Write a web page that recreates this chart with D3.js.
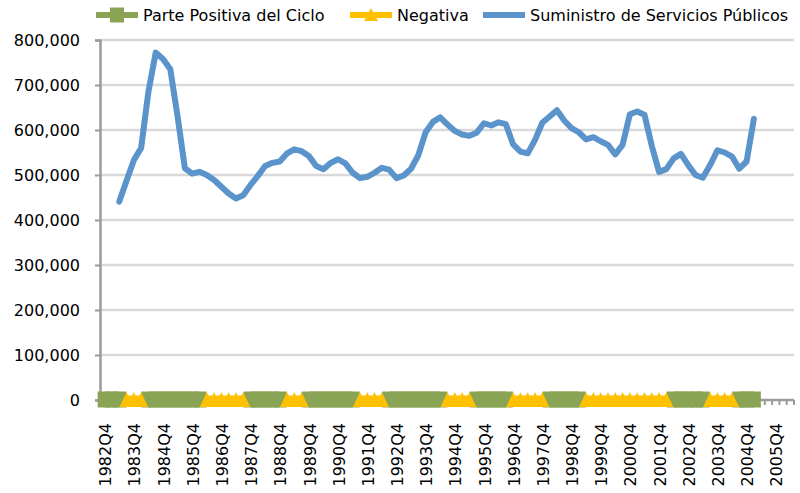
<!DOCTYPE html>
<html>
<head>
<meta charset="utf-8">
<script src="https://cdn.jsdelivr.net/npm/d3@7"></script>
<style>
  body { margin: 0; background: #fff; }
  text { font-family: "DejaVu Sans", sans-serif; fill: #000; }
</style>
</head>
<body>
<svg id="chart" width="800" height="493"></svg>
<script>
// quarters on the category axis: 1982Q4 .. 2006Q2
var quarters = [];
for (var y = 1982; y <= 2006; y++) {
  for (var q = 1; q <= 4; q++) {
    if ((y == 1982 && q < 4) || (y == 2006 && q > 2)) continue;
    quarters.push(y + "Q" + q);
  }
}
var tickLabels = ["1982Q4","1983Q4","1984Q4","1985Q4","1986Q4","1987Q4","1988Q4","1989Q4",
  "1990Q4","1991Q4","1992Q4","1993Q4","1994Q4","1995Q4","1996Q4","1997Q4","1998Q4",
  "1999Q4","2000Q4","2001Q4","2002Q4","2003Q4","2004Q4","2005Q4"];
var yTicks = [0, 100000, 200000, 300000, 400000, 500000, 600000, 700000, 800000];

// cycle phases (first and last quarter of each run)
var positiveRuns = [["1982Q4","1983Q2"],["1984Q2","1986Q1"],["1987Q4","1988Q4"],["1989Q4","1991Q2"],
  ["1992Q3","1994Q2"],["1995Q3","1996Q3"],["1998Q1","1999Q1"],["2002Q2","2003Q2"],["2004Q3","2005Q1"]];
var negativeRuns = [["1983Q3","1984Q1"],["1986Q2","1987Q3"],["1989Q1","1989Q3"],["1991Q3","1992Q2"],
  ["1994Q3","1995Q2"],["1996Q4","1997Q4"],["1999Q2","2002Q1"],["2003Q3","2004Q2"]];

// Suministro de Servicios Publicos, 1983Q2 .. 2005Q1
var supplyStart = "1983Q2";
var supply = [441000,487000,533000,560000,685000,772000,758000,735000,630000,515000,
  503000,507000,500000,489000,474000,459000,448000,455000,478000,498000,
  520000,527000,530000,548000,557000,553000,542000,520000,513000,527000,
  535000,526000,505000,493000,496000,505000,516000,512000,493000,499000,
  514000,544000,595000,618000,628000,612000,598000,590000,587000,594000,
  615000,610000,617000,613000,568000,552000,548000,578000,616000,630000,
  644000,621000,604000,595000,579000,584000,575000,567000,546000,567000,
  635000,641000,634000,565000,507000,513000,537000,547000,522000,500000,
  494000,522000,555000,550000,541000,514000,530000,625000];

var colPos = "#8aa455", colNeg = "#ffc000", colLine = "#5b93cb";

var svg = d3.select("#chart");
var x = d3.scaleBand().domain(quarters).range([101, 794]);
var y = d3.scaleLinear().domain([0, 800000]).range([400, 40]);
var cx = function(k) { return x(k) + x.bandwidth() / 2; };

// gridlines
svg.append("g").selectAll("line")
  .data(yTicks.filter(function(d) { return d > 0; }))
  .enter().append("line")
  .attr("x1", 101).attr("x2", 794)
  .attr("y1", function(d) { return y(d); }).attr("y2", function(d) { return y(d); })
  .attr("stroke", "#d9d9d9").attr("stroke-width", 2.5);

// y axis
var yAxis = svg.append("g").attr("transform", "translate(100,0)")
  .call(d3.axisLeft(y).tickValues(yTicks).tickSize(5).tickPadding(15)
    .tickFormat(d3.format(",")));
yAxis.select(".domain").attr("stroke", "#9a9a9a").attr("stroke-width", 2.5);
yAxis.selectAll(".tick line").attr("stroke", "#9a9a9a").attr("stroke-width", 2);
yAxis.selectAll("text").style("font-size", "16px").attr("fill", "#000");

// x axis: ticks between every category, labels every 4 quarters
var xAxis = svg.append("g").attr("transform", "translate(0,400)");
xAxis.append("line").attr("x1", 100).attr("x2", 794).attr("y1", 0).attr("y2", 0)
  .attr("stroke", "#9a9a9a").attr("stroke-width", 2.5);
xAxis.selectAll("line.tk").data(quarters).enter().append("line").attr("class", "tk")
  .attr("x1", function(d) { return x(d) + x.bandwidth(); })
  .attr("x2", function(d) { return x(d) + x.bandwidth(); })
  .attr("y1", 0).attr("y2", 5).attr("stroke", "#9a9a9a").attr("stroke-width", 2);
xAxis.selectAll("text").data(tickLabels).enter().append("text")
  .attr("transform", function(d) { return "translate(" + (cx(d) + 1) + ",23) rotate(-90)"; })
  .attr("text-anchor", "end").attr("dy", "0.35em")
  .style("font-size", "16px").text(function(d) { return d; });

// expand runs into quarter lists
function runQuarters(runs) {
  return runs.map(function(r) {
    return quarters.slice(quarters.indexOf(r[0]), quarters.indexOf(r[1]) + 1);
  });
}
var posQ = runQuarters(positiveRuns), negQ = runQuarters(negativeRuns);
var flat = d3.line().x(function(d) { return cx(d); }).y(y(0));

// Parte Positiva del Ciclo
var gPos = svg.append("g");
gPos.selectAll("path").data(posQ).enter().append("path")
  .attr("d", flat).attr("fill", "none").attr("stroke", colPos).attr("stroke-width", 7);
gPos.selectAll("rect").data(d3.merge(posQ)).enter().append("rect")
  .attr("x", function(d) { return cx(d) - 7; }).attr("y", y(0) - 8.5)
  .attr("width", 14).attr("height", 16).attr("fill", colPos);

// Negativa
var gNeg = svg.append("g");
gNeg.selectAll("path").data(negQ).enter().append("path")
  .attr("d", flat).attr("fill", "none").attr("stroke", colNeg).attr("stroke-width", 9);
gNeg.selectAll("path.tri").data(d3.merge(negQ)).enter().append("path").attr("class", "tri")
  .attr("d", function(d) {
    var c = cx(d), b = y(0);
    return "M" + (c - 7) + "," + (b + 7) + "L" + c + "," + (b - 8) + "L" + (c + 7) + "," + (b + 7) + "Z";
  })
  .attr("fill", colNeg);

// Suministro de Servicios Publicos
var i0 = quarters.indexOf(supplyStart);
var line = d3.line()
  .x(function(d, i) { return cx(quarters[i0 + i]); })
  .y(function(d) { return y(d); });
svg.append("path").datum(supply).attr("d", line)
  .attr("fill", "none").attr("stroke", colLine).attr("stroke-width", 6)
  .attr("stroke-linejoin", "round").attr("stroke-linecap", "round");

// legend
var legend = [
  {name: "Parte Positiva del Ciclo", x: 96, color: colPos, mark: "square"},
  {name: "Negativa", x: 350, color: colNeg, mark: "triangle"},
  {name: "Suministro de Servicios Públicos", x: 483, color: colLine, mark: "none"}
];
var lg = svg.append("g").selectAll("g").data(legend).enter().append("g")
  .attr("transform", function(d) { return "translate(" + d.x + ",15)"; });
lg.append("line").attr("x1", 0).attr("x2", 42).attr("y1", 0).attr("y2", 0)
  .attr("stroke", function(d) { return d.color; }).attr("stroke-width", 6);
lg.filter(function(d) { return d.mark == "square"; }).append("rect")
  .attr("x", 14).attr("y", -7.5).attr("width", 14).attr("height", 15)
  .attr("fill", function(d) { return d.color; });
lg.filter(function(d) { return d.mark == "triangle"; }).append("path")
  .attr("d", "M14,6L21,-7L28,6Z").attr("fill", function(d) { return d.color; });
lg.append("text").attr("x", 47).attr("y", 0).attr("dy", "0.35em")
  .style("font-size", "16px").text(function(d) { return d.name; });
</script>
</body>
</html>
